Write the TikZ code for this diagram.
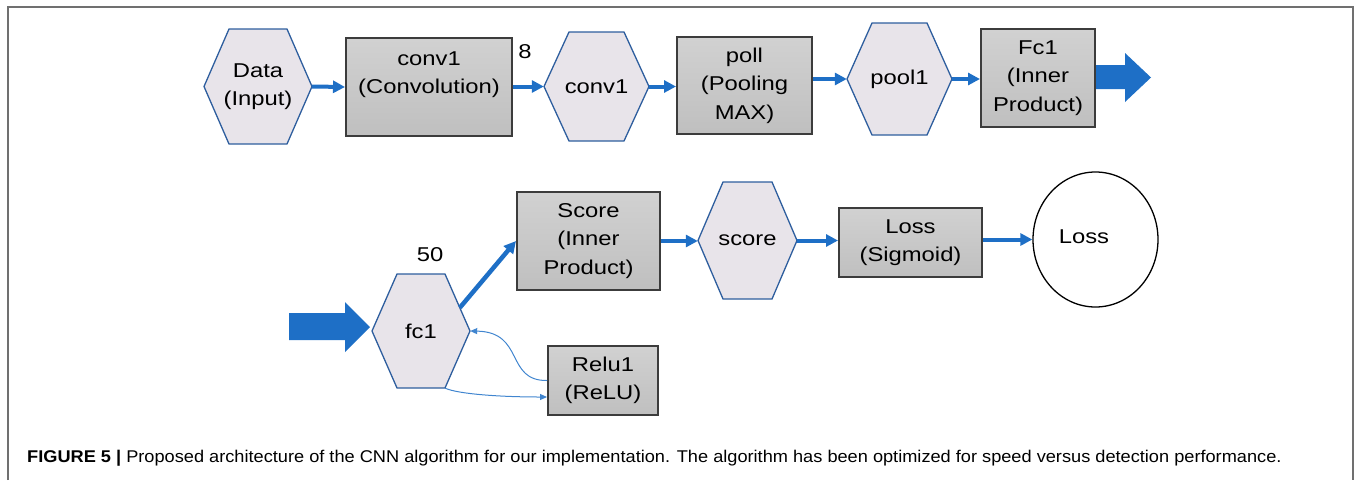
\documentclass[tikz,border=0pt]{standalone}
\usepackage{fontspec}
\setmainfont{Liberation Sans}
\newfontfamily\diagfont[FakeStretch=1.19]{Liberation Sans}
\newfontfamily\capfont[FakeStretch=1.07]{Liberation Sans}
\usetikzlibrary{arrows.meta,calc,shapes.geometric}

\definecolor{hexfill}{HTML}{E8E4EA}
\definecolor{hexedge}{HTML}{2E5E9E}
\definecolor{flowblue}{HTML}{1E6FC6}
\definecolor{boxedge}{HTML}{3C3C3C}
\definecolor{framegray}{HTML}{707070}

\tikzset{
  diagtext/.style={font=\diagfont\fontsize{20}{28.5}\selectfont, align=center},
  hexshape/.style={fill=hexfill, draw=hexedge, line width=1.3},
  hexlabel/.style={diagtext, inner sep=0, draw=none},
  opbox/.style={diagtext, draw=boxedge, line width=2, top color=gray!36, bottom color=gray!50, inner sep=0},
  flow/.style={draw=flowblue, line width=4, -{Triangle[length=12,width=12]}},
  feedback/.style={draw=flowblue!85, line width=1, -{Triangle[length=7,width=6]}},
  bigarrow/.style={fill=flowblue, draw=none},
  frameline/.style={draw=framegray, line width=2},
}

% hexagon with pointed left/right ends: name, cx, cy, width, height, text
\newcommand\hexnode[6]{%
  \filldraw[hexshape] ({#2-#4/2},#3) -- ({#2-#4/2+25},{#3-#5/2}) -- ({#2+#4/2-25},{#3-#5/2})
    -- ({#2+#4/2},#3) -- ({#2+#4/2-25},{#3+#5/2}) -- ({#2-#4/2+25},{#3+#5/2}) -- cycle;
  \node[hexlabel, minimum width=#4, minimum height=#5] (#1) at (#2,#3) {#6};}

\begin{document}
\begin{tikzpicture}[x=1pt, y=-1pt]
\useasboundingbox (0,0) rectangle (1354,480);

% outer frame (open at the bottom)
\draw[frameline] (8,480) -- (8,7) -- (1353,7) -- (1353,480);

% ---- first row ----
\hexnode{data}{258}{86.5}{108}{115}{Data\\(Input)}
\node[opbox, minimum width=166, minimum height=98] (conv) at (429,87) {conv1\\(Convolution)\\\mbox{}};
\node[diagtext] (lbleight) at (525,52) {8};
\hexnode{convhex}{596.5}{86.5}{105}{109}{conv1}
\node[opbox, minimum width=135, minimum height=97] (poll) at (744.5,85.5) {poll\\(Pooling\\MAX)};
\hexnode{poolhex}{899.5}{79}{105}{112}{pool1}
\node[opbox, minimum width=114, minimum height=98] (fcbox) at (1038,78) {Fc1\\(Inner\\Product)};

\draw[flow] (data.east) -- (conv.west);
\draw[flow] (conv.east |- convhex.west) -- (convhex.west);
\draw[flow] (convhex.east) -- (convhex.east -| poll.west);
\draw[flow] (poolhex.west -| poll.east) -- (poolhex.west);
\draw[flow] (poolhex.east) -- (poolhex.east -| fcbox.west);

% continuation arrow leaving the first row
\fill[bigarrow] (fcbox.east |- 0,65) -- (1125,65) -- (1125,53) -- (1151,77.5)
  -- (1125,102) -- (1125,89) -- (fcbox.east |- 0,89) -- cycle;

% ---- second row ----
% continuation arrow entering the second row
\fill[bigarrow] (289,313) -- (345,313) -- (345,302) -- (370,327)
  -- (345,352) -- (345,340) -- (289,340) -- cycle;

\hexnode{fchex}{421}{331}{98}{114}{fc1}
\node[diagtext] (lblfifty) at (430,255) {50};
\node[opbox, minimum width=143, minimum height=98] (scorebox) at (588.5,241) {Score\\(Inner\\Product)};
\hexnode{scorehex}{747.5}{240.5}{99}{117}{score}
\node[opbox, minimum width=143, minimum height=69] (lossbox) at (910.5,242.5) {Loss\\(Sigmoid)};
\node[ellipse, draw=black, line width=1.3, fill=white, minimum width=125, minimum height=135, inner sep=0] (lossout) at (1095.5,239.5) {};
\node[diagtext] (losstext) at (1084,237) {Loss};
\node[opbox, minimum width=110, minimum height=69] (relu) at (603,380.5) {Relu1\\(ReLU)};

\coordinate (fcout) at ($([xshift=-25pt]fchex.north east)!0.59!(fchex.east)$);
\draw[flow, line width=4.5] (fcout) -- (scorebox.west);
\draw[flow] (scorebox.east) -- (scorebox.east -| scorehex.west);
\draw[flow] (scorehex.east) -- (scorehex.east -| lossbox.west);
\draw[flow] (lossbox.east |- lossout.west) -- (lossout.west);

% ReLU feedback loop
\draw[feedback] (relu.west) .. controls (505,381) and (525,332) .. (fchex.east);
\draw[feedback] ([xshift=-25pt]fchex.south east) .. controls (458,394) and (500,397) .. ([yshift=-16.5pt]relu.west);

% caption
\node[anchor=base west, inner sep=0, font=\capfont\fontsize{17}{20}\selectfont] (caption) at (27,462)
  {\textbf{FIGURE 5 |} Proposed architecture of the CNN algorithm for our implementation. The algorithm has been optimized for speed versus detection performance.};
\end{tikzpicture}
\end{document}
